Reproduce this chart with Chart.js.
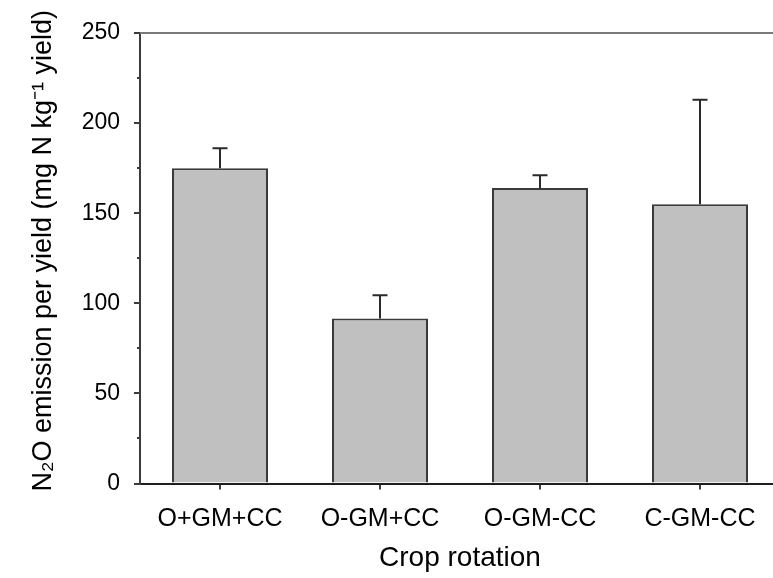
<!DOCTYPE html>
<html>
<head>
<meta charset="utf-8">
<script src="https://cdn.jsdelivr.net/npm/chart.js@4/dist/chart.umd.min.js"></script>
<style>
  html, body { margin: 0; padding: 0; background: #fff; overflow: hidden; }
  #wrap { width: 773px; height: 578px; overflow: hidden; position: relative; }
  canvas { display: block; }
</style>
</head>
<body>
<div id="wrap"><canvas id="c" width="780" height="578"></canvas></div>
<script>
const categories = ['O+GM+CC', 'O-GM+CC', 'O-GM-CC', 'C-GM-CC'];
const emissionValues = [175, 91.5, 164, 155];
const emissionErrors = [11, 13, 7, 58];
const yTickValues = [0, 50, 100, 150, 200, 250];
const yMinorTickValues = [25, 75, 125, 175, 225];
const xTitle = 'Crop rotation';
const yTitle = '  N₂O emission per yield (mg N kg⁻¹ yield)';

const FONT = "'Liberation Sans', Arial, Helvetica, sans-serif";
const AXIS_COLOR = '#3c3c3c';

const extrasPlugin = {
  id: 'extras',
  afterDatasetsDraw(chart) {
    const ctx = chart.ctx;
    const ys = chart.scales.y;
    const ca = chart.chartArea;
    ctx.save();
    const meta = chart.getDatasetMeta(0);
    ctx.strokeStyle = '#2a2a2a';
    ctx.lineWidth = 2;
    meta.data.forEach((bar, i) => {
      const x = bar.x;
      const yTop = ys.getPixelForValue(emissionValues[i]);
      const yErr = ys.getPixelForValue(emissionValues[i] + emissionErrors[i]);
      ctx.beginPath();
      ctx.moveTo(x, yTop);
      ctx.lineTo(x, yErr);
      ctx.moveTo(x - 7.5, yErr);
      ctx.lineTo(x + 7.5, yErr);
      ctx.stroke();
    });
    ctx.strokeStyle = AXIS_COLOR;
    ctx.lineWidth = 2;
    yMinorTickValues.forEach(v => {
      const y = Math.round(ys.getPixelForValue(v));
      ctx.beginPath();
      ctx.moveTo(ca.left - 3, y);
      ctx.lineTo(ca.left, y);
      ctx.stroke();
    });
    ctx.strokeStyle = '#7a7a7a';
    ctx.lineWidth = 2;
    ctx.beginPath();
    ctx.moveTo(ca.left, ca.top);
    ctx.lineTo(ca.right, ca.top);
    ctx.stroke();
    ctx.restore();
  }
};

new Chart(document.getElementById('c'), {
  type: 'bar',
  data: {
    labels: categories,
    datasets: [{
      data: emissionValues,
      backgroundColor: '#c0c0c0',
      borderColor: '#3a3a3a',
      borderWidth: 2,
      barPercentage: 0.6,
      categoryPercentage: 1.0
    }]
  },
  options: {
    responsive: false,
    animation: false,
    devicePixelRatio: 1,
    layout: { padding: { left: 0, right: 0, top: 33, bottom: 0 } },
    plugins: { legend: { display: false }, tooltip: { enabled: false } },
    scales: {
      x: {
        offset: true,
        afterFit(scale) { scale.height = 94.5; },
        grid: { display: true, drawOnChartArea: false, drawTicks: true, tickLength: 6, color: AXIS_COLOR, lineWidth: 2, offset: false },
        border: { display: true, color: '#1e1e1e', width: 2 },
        ticks: { color: '#000', font: { family: FONT, size: 25 }, padding: 15, maxRotation: 0 },
        title: { display: true, text: xTitle, color: '#000', font: { family: FONT, size: 28 }, padding: { top: 0, bottom: 3 } }
      },
      y: {
        min: 0, max: 250,
        afterFit(scale) { scale.width = 140; },
        afterBuildTicks(scale) { scale.ticks = yTickValues.map(v => ({ value: v })); },
        grid: { display: true, drawOnChartArea: false, drawTicks: true, tickLength: 6, color: AXIS_COLOR, lineWidth: 2 },
        border: { display: true, color: AXIS_COLOR, width: 2 },
        ticks: { color: '#000', font: { family: FONT, size: 23 }, padding: 14 },
        title: { display: true, text: yTitle, color: '#000', font: { family: FONT, size: 27 }, padding: { top: 27, bottom: 0 } }
      }
    }
  },
  plugins: [extrasPlugin]
});
</script>
</body>
</html>
